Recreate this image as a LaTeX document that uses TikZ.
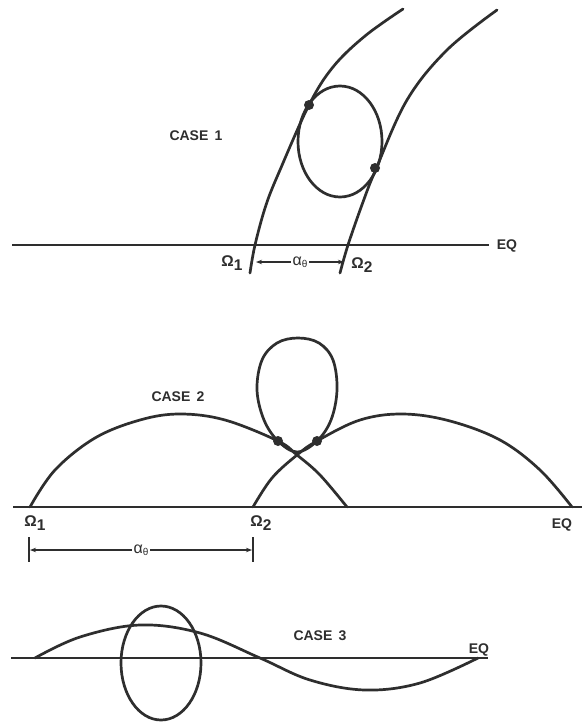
\documentclass[tikz,border=0pt]{standalone}
\usepackage{fontspec}
\setmainfont{Liberation Sans}
\usetikzlibrary{arrows.meta}
\definecolor{ink}{HTML}{2E2E2E}
\newcommand{\lowsub}[1]{\raisebox{-0.45ex}{#1}}
\newcommand{\anglbl}{{\fontsize{16}{17}\selectfont α}\raisebox{-0.35ex}{\fontsize{10}{11}\selectfont θ}}

\begin{document}
\begin{tikzpicture}[x=1pt,y=-1pt,
  every node/.style={text=ink,inner sep=1pt},
  track/.style={draw=ink,line width=2.7pt,line cap=round},
  eqline/.style={draw=ink,line width=1.7pt},
  dot/.style={circle,fill=ink,inner sep=0pt,minimum size=10pt},
  caselbl/.style={font=\fontsize{14}{16}\selectfont\bfseries},
  nodelbl/.style={font=\fontsize{15.5}{17}\selectfont\bfseries},
  span/.style={{Stealth[length=6pt,width=4.5pt]}-{Stealth[length=6pt,width=4.5pt]},draw=ink,line width=1.2pt},
  bar/.style={draw=ink,line width=1.8pt}
]
\useasboundingbox[fill=white] (0,0) rectangle (582,723);

% case 1
\node[caselbl] (case1) at (196,136) {CASE\hspace{0.45em}1};
\node[caselbl] (eq1) at (507,246) {EQ};
\coordinate (eq1L) at (12,245);
\coordinate (eq1R) at (489,245);
\draw[eqline] (eq1L) -- (eq1R);
\draw[track] plot[smooth,tension=0.6] coordinates {(250,273) (255,245) (266,205) (280,170) (309,105) (333,67) (365,36) (403,9)};
\draw[track] plot[smooth,tension=0.6] coordinates {(340,273) (348,245) (363,202) (376,169) (407,100) (447,50) (497,10)};
\draw[track] (340,141.5) ellipse [x radius=42, y radius=55.5];
\node[dot] (c1a) at (309,105) {};
\node[dot] (c1b) at (375,168) {};
\node[nodelbl] (om11) at (232,263) {Ω\lowsub{1}};
\node[nodelbl] (om12) at (362,265) {Ω\lowsub{2}};
\coordinate (a1L) at (256,262);
\coordinate (a1R) at (344,262);
\draw[span] (a1L) -- node[fill=white,inner sep=2pt] (alpha1) {\anglbl} (a1R);

% case 2
\node[caselbl] (case2) at (178,397) {CASE\hspace{0.45em}2};
\node[caselbl] (eq2) at (562,525) {EQ};
\coordinate (eq2L) at (13,507);
\coordinate (eq2R) at (582,507);
\draw[eqline] (eq2L) -- (eq2R);
\draw[track] plot[smooth,tension=0.6] coordinates {(30,507) (55,470) (95,438) (140,420) (180,414) (225,420) (278,441) (297,455) (320,475) (347,507)};
\draw[track] plot[smooth,tension=0.6] coordinates {(253,507) (272,478) (297,455) (317,441) (360,420) (403,414) (450,421) (500,440) (540,470) (572,507)};
\draw[track] plot[smooth cycle,tension=0.6] coordinates {(297,452) (278,441) (264,420) (257,390) (262,360) (277,343) (298,338) (319,343) (333,360) (337,390) (331,420) (317,441)};
\node[dot] (c2a) at (278,441) {};
\node[dot] (c2b) at (317,441) {};
\node[nodelbl] (om21) at (35,523) {Ω\lowsub{1}};
\node[nodelbl] (om22) at (261,523) {Ω\lowsub{2}};
\coordinate (b2Lt) at (29,537);
\coordinate (b2Lb) at (29,562);
\coordinate (b2Rt) at (253,537);
\coordinate (b2Rb) at (253,562);
\draw[bar] (b2Lt) -- (b2Lb);
\draw[bar] (b2Rt) -- (b2Rb);
\coordinate (a2L) at (30,550);
\coordinate (a2R) at (252,550);
\draw[span] (a2L) -- node[fill=white,inner sep=2pt] (alpha2) {\anglbl} (a2R);

% case 3
\node[caselbl] (case3) at (320,636) {CASE\hspace{0.45em}3};
\node[caselbl] (eq3) at (479,650) {EQ};
\coordinate (eq3L) at (11,658);
\coordinate (eq3R) at (488,658);
\draw[eqline] (eq3L) -- (eq3R);
\draw[track] plot[smooth,tension=0.6] coordinates {(35,658) (80,637) (140,625) (200,633) (260,658) (310,680) (365,690) (420,683) (478,658)};
\draw[track] (161,663) ellipse [x radius=40, y radius=57];
\end{tikzpicture}
\end{document}
